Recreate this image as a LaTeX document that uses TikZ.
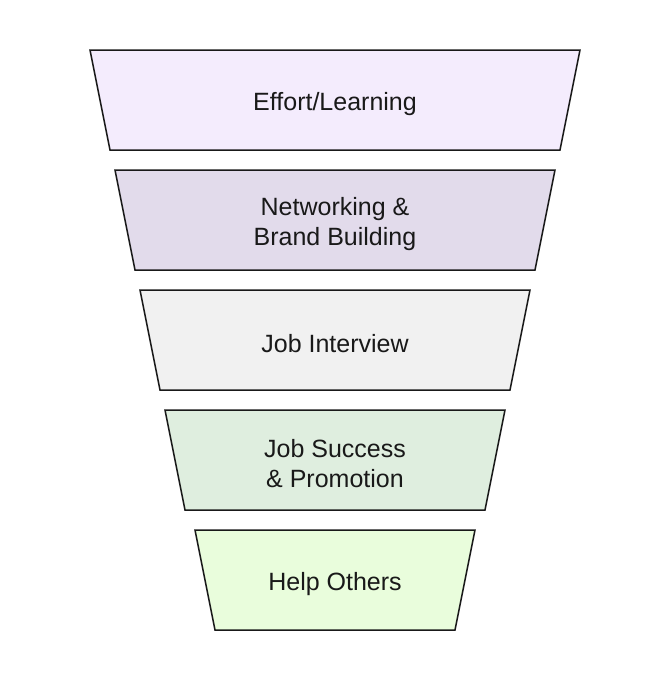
\documentclass[tikz,border=0pt]{standalone}
\usepackage{fontspec}
\setmainfont{Liberation Sans}
\definecolor{c1}{HTML}{F4ECFD}
\definecolor{c2}{HTML}{E2DBEB}
\definecolor{c3}{HTML}{F1F1F1}
\definecolor{c4}{HTML}{DFEEDF}
\definecolor{c5}{HTML}{E9FDDC}
\tikzset{
  stage/.style={draw=black!90, line width=1.5pt, line join=miter},
  lbl/.style={align=center, font=\fontsize{25}{30}\selectfont, text=black!90},
}
\begin{document}
\begin{tikzpicture}[x=1pt,y=-1pt]
\useasboundingbox (0,0) rectangle (670,680);
\newcommand\stg[6]{% name, fill, top y, top left x, top right x, text
  \filldraw[stage, fill=#2] (#4,#3) -- (#5,#3) -- (#5-20,#3+100) -- (#4+20,#3+100) -- cycle;
  \node[lbl] (#1) at ({(#4+#5)/2},#3+54) {#6};
}
\stg{s1}{c1}{50}{90}{580}{Effort/Learning}
\stg{s2}{c2}{170}{115}{555}{Networking \&\\Brand Building}
\stg{s3}{c3}{290}{140}{530}{Job Interview}
\stg{s4}{c4}{410}{165}{505}{Job Success\\\& Promotion}
\stg{s5}{c5}{530}{195}{475}{Help Others}
\end{tikzpicture}
\end{document}
